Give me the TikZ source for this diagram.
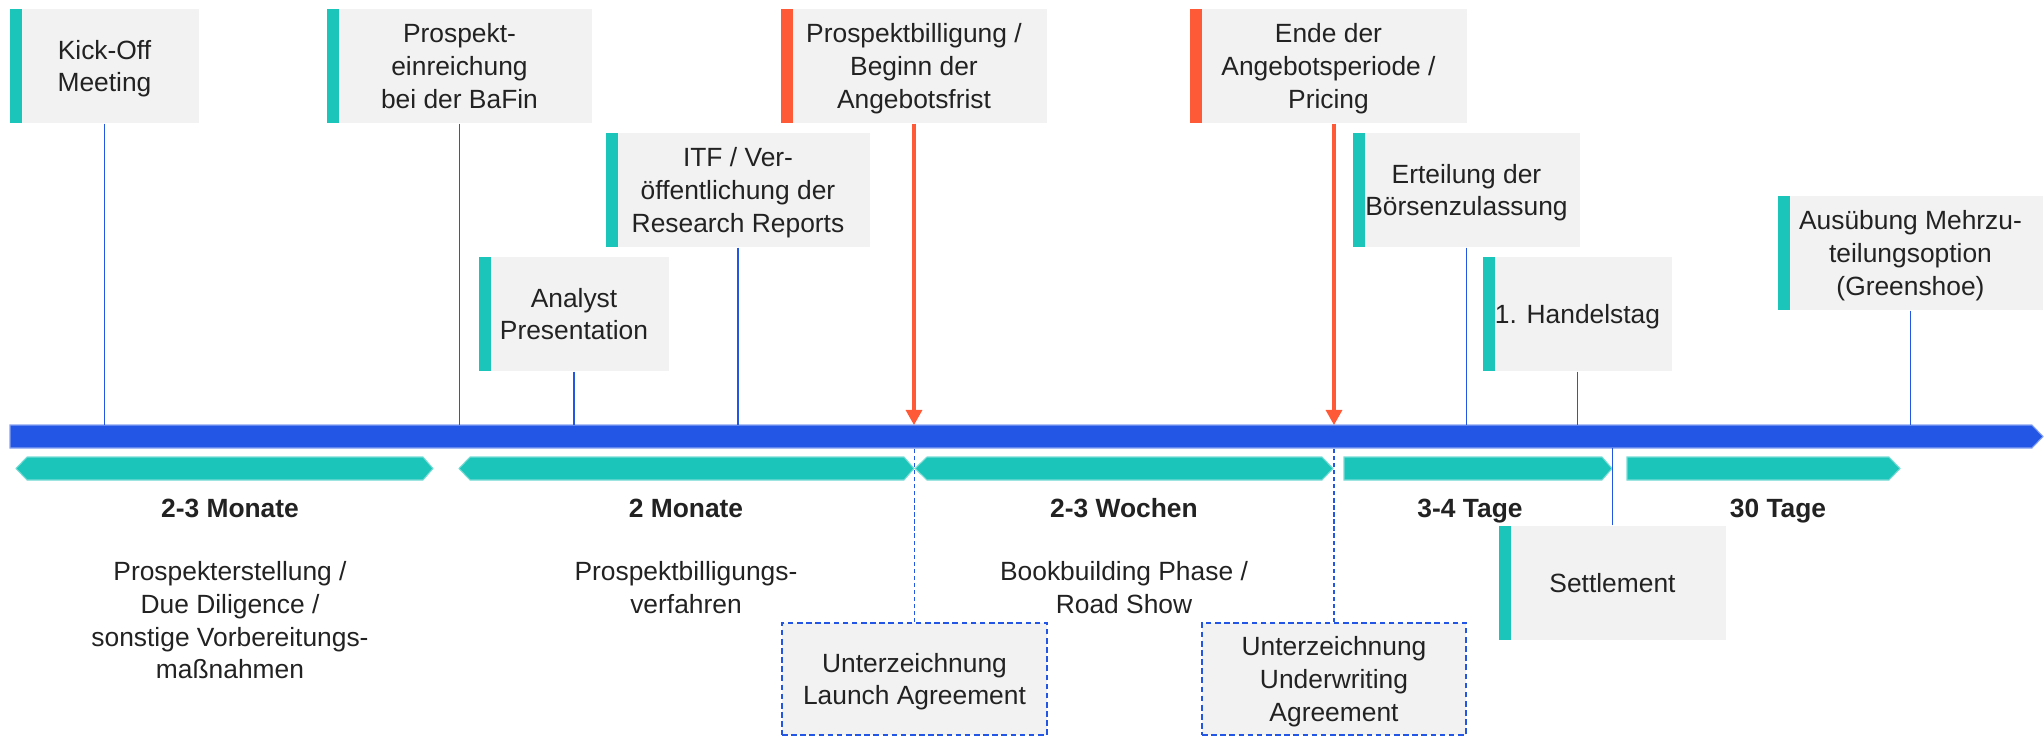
\documentclass[tikz,border=0pt]{standalone}
\usepackage{fontspec}
\setmainfont{Liberation Sans}
\usetikzlibrary{arrows.meta,calc,positioning}

\definecolor{ipoblue}{HTML}{2456E6}
\definecolor{ipoteal}{HTML}{1CC5B9}
\definecolor{ipored}{HTML}{FF5A37}
\definecolor{boxgray}{HTML}{F2F2F2}
\definecolor{inkgray}{HTML}{222222}

\newcommand{\ipofont}{\fontsize{7.5}{9.3}\selectfont}

\tikzset{
  event/.style={fill=boxgray, minimum height=1.14cm, inner sep=0pt, align=center,
    text=inkgray, text depth=0pt, path picture={\fill[#1] (path picture bounding box.north west)
      rectangle ([xshift=0.12cm]path picture bounding box.south west);}},
  event/.default=ipoteal,
  signing/.style={fill=boxgray, draw=ipoblue, line width=0.5pt,
    dash pattern=on 1.6pt off 1pt, minimum height=1.12cm, inner sep=0pt,
    align=center, text=inkgray, text depth=0pt},
  stem/.style={ipoblue, line width=0.5pt},
  keyarrow/.style={ipored, line width=0.9pt, -{Triangle[length=0.15cm,width=0.16cm]}},
  sigline/.style={ipoblue, line width=0.55pt, dash pattern=on 1.2pt off 0.8pt},
  phase/.style={fill=ipoteal, draw=ipoteal!60!white, line width=0.3pt},
  phaselabel/.style={anchor=base, font=\ipofont\bfseries, text=inkgray},
  phasetext/.style={anchor=north, inner sep=0pt, align=center, text=inkgray}
}

\begin{document}
\begin{tikzpicture}[x=0.01cm, y=-0.01cm, font=\ipofont]
  \useasboundingbox (0,0) rectangle (2044,736);

  % Zeitstrahl
  \path[fill=ipoblue, draw=ipoblue!55!white, line width=0.3pt]
    (10,425) -- (2032,425) -- (2043,436.5) -- (2032,448) -- (10,448) -- cycle;
  \coordinate (bartop) at (0,425);
  \coordinate (barbot) at (0,448);

  % Phasen
  \path[phase] (16,468.5) -- (27,457) -- (423,457) -- (433,468.5) -- (423,480) -- (27,480) -- cycle;
  \path[phase] (459,468.5) -- (470,457) -- (904,457) -- (914,468.5) -- (904,480) -- (470,480) -- cycle;
  \path[phase] (915,468.5) -- (927,457) -- (1322,457) -- (1333,468.5) -- (1322,480) -- (927,480) -- cycle;
  \path[phase] (1344,457) -- (1602,457) -- (1612,468.5) -- (1602,480) -- (1344,480) -- cycle;
  \path[phase] (1627,457) -- (1889,457) -- (1900,468.5) -- (1889,480) -- (1627,480) -- cycle;

  \node[phaselabel] (dur1) at (230,517) {2-3 Monate};
  \node[phaselabel] (dur2) at (686,517) {2 Monate};
  \node[phaselabel] (dur3) at (1124,517) {2-3 Wochen};
  \node[phaselabel] (dur4) at (1470,517) {3-4 Tage};
  \node[phaselabel] (dur5) at (1778,517) {30 Tage};

  \node[phasetext] (prep) at (230,561) {Prospekterstellung /\\Due Diligence /\\sonstige Vorbereitungs-\\maßnahmen};
  \node[phasetext] (review) at (686,561) {Prospektbilligungs-\\verfahren};
  \node[phasetext] (bookb) at (1124,561) {Bookbuilding Phase /\\Road Show};

  % Ereignisse
  \node[event, minimum width=1.89cm] (kickoff) at (104.5,66) {Kick-Off\\Meeting};
  \node[event, minimum width=2.65cm] (filing) at (459.5,66) {Prospekt-\\einreichung\\bei der BaFin};
  \node[event, minimum width=1.90cm] (analyst) at (574,314) {Analyst\\Presentation};
  \node[event, minimum width=2.64cm] (itf) at (738,190) {ITF / Ver-\\öffentlichung der\\Research Reports};
  \node[event=ipored, minimum width=2.66cm] (approval) at (914,66) {Prospektbilligung /\\Beginn der\\Angebotsfrist};
  \node[event=ipored, minimum width=2.77cm] (pricing) at (1328.5,66) {Ende der\\Angebotsperiode /\\Pricing};
  \node[event, minimum width=2.27cm] (listing) at (1466.5,190) {Erteilung der\\Börsenzulassung};
  \node[event, minimum width=1.89cm] (firstday) at (1577.5,314) {1. Handelstag};
  \node[event, minimum width=2.65cm] (greenshoe) at (1910.5,253) {Ausübung Mehrzu-\\teilungsoption\\(Greenshoe)};
  \node[event, minimum width=2.27cm] (settlement) at (1612.5,583) {Settlement};

  \node[signing, minimum width=2.65cm] (launch) at (914.5,679) {Unterzeichnung\\Launch Agreement};
  \node[signing, minimum width=2.64cm] (underwriting) at (1334,679) {Unterzeichnung\\Underwriting\\Agreement};

  % Verbindungen
  \foreach \ev in {kickoff,filing,analyst,itf,listing,firstday,greenshoe}
    \draw[stem] (\ev.south) -- (\ev.south |- bartop);
  \draw[stem] (settlement.north) -- (settlement.north |- barbot);
  \draw[keyarrow] (approval.south) -- (approval.south |- bartop);
  \draw[keyarrow] (pricing.south -| underwriting) -- (underwriting |- bartop);
  \draw[sigline] (launch.north) -- (launch.north |- barbot);
  \draw[sigline] (underwriting.north) -- (underwriting.north |- barbot);
\end{tikzpicture}
\end{document}
